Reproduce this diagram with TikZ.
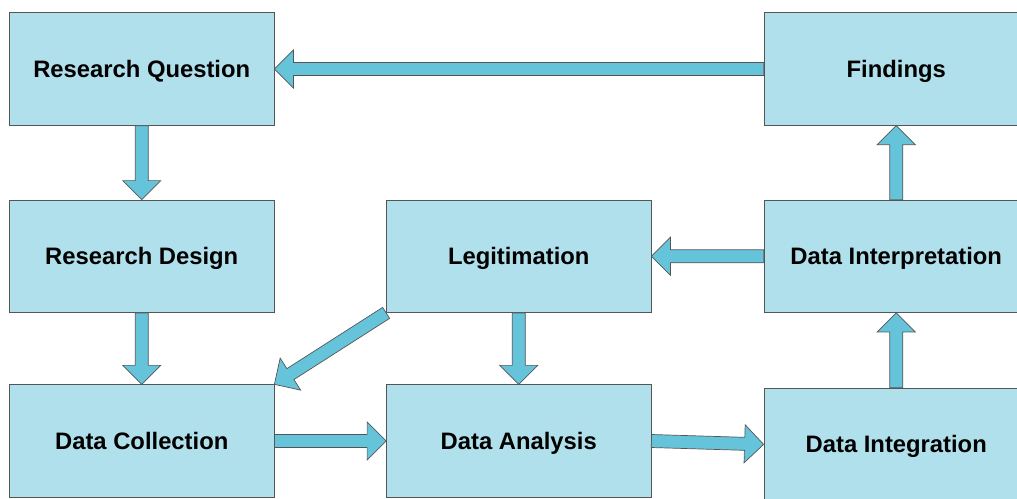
\documentclass[tikz,border=0pt]{standalone}
\usepackage{fontspec}
\setmainfont{Liberation Sans}
\usetikzlibrary{calc}

\definecolor{boxfill}{HTML}{B0E0EB}
\definecolor{arrowfill}{HTML}{66C4DA}
\definecolor{edgegray}{HTML}{555555}

% Block arrow from node anchor #1 to node anchor #2
\newcommand{\blockarrow}[2]{%
  \coordinate (ba-h) at ($(#2)!19pt!(#1)$);
  \draw[blockarrowstyle]
    ($(#1)!6.5pt!90:(#2)$) --
    ($(ba-h)!6.5pt!90:(#2)$) --
    ($(ba-h)!19pt!90:(#2)$) --
    (#2) --
    ($(ba-h)!19pt!-90:(#2)$) --
    ($(ba-h)!6.5pt!-90:(#2)$) --
    ($(#1)!6.5pt!-90:(#2)$) -- cycle;
}

\begin{document}
\begin{tikzpicture}[x=1pt,y=-1pt,
  stagebox/.style={draw=edgegray, line width=0.8pt, fill=boxfill,
    minimum width=264.5pt, minimum height=112.5pt, inner sep=0pt,
    text height=17pt, text depth=0pt,
    font=\fontsize{23.8}{28}\selectfont\bfseries},
  blockarrowstyle/.style={draw=edgegray, line width=0.7pt, fill=arrowfill, line join=miter}]
  \useasboundingbox (0,0) rectangle (1017,498);
  \clip (0,0) rectangle (1017,498);

  \node[stagebox] (rq)  at (141.75,69)     {Research Question};
  \node[stagebox] (fi)  at (896.25,69)     {Findings};
  \node[stagebox] (rd)  at (141.75,256.25) {Research Design};
  \node[stagebox] (le)  at (518.75,256.25) {Legitimation};
  \node[stagebox] (dip) at (896.25,256.25) {Data Interpretation};
  \node[stagebox] (dc)  at (141.75,441)    {Data Collection};
  \node[stagebox] (da)  at (518.75,441)    {Data Analysis};
  \node[stagebox] (dig) at (896.25,444.4)  {Data Integration};

  \blockarrow{fi.west}{rq.east}
  \blockarrow{rq.south}{rd.north}
  \blockarrow{rd.south}{dc.north}
  \blockarrow{le.south west}{dc.north east}
  \blockarrow{le.south}{da.north}
  \blockarrow{dc.east}{da.west}
  \blockarrow{da.east}{dig.west}
  \blockarrow{dig.north}{dip.south}
  \blockarrow{dip.west}{le.east}
  \blockarrow{dip.north}{fi.south}
\end{tikzpicture}
\end{document}
